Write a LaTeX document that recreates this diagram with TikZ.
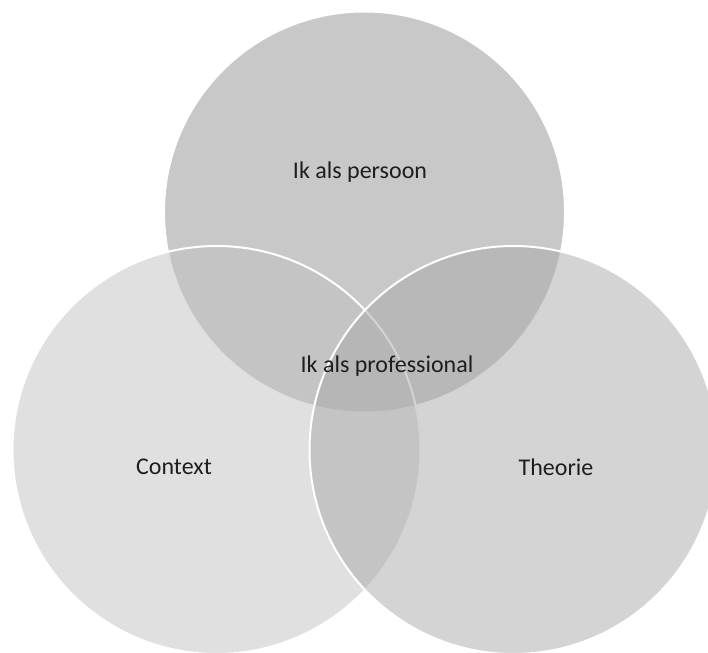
\documentclass[tikz,border=0pt]{standalone}
\usepackage{fontspec}
\setmainfont{Carlito}
\definecolor{persoongray}{RGB}{145, 145, 145}
\definecolor{contextgray}{RGB}{193, 193, 193}
\definecolor{theoriegray}{RGB}{169, 169, 169}
\definecolor{labelblack}{RGB}{30, 30, 30}

\begin{document}
\begin{tikzpicture}[x=1pt, y=-1pt]
\useasboundingbox (0,0) rectangle (708,652);
\node[circle, draw=white, line width=2pt, fill=persoongray, fill opacity=0.5, minimum size=401pt, inner sep=0pt] (persoon) at (364.5,212) {};
\node[circle, draw=white, line width=2pt, fill=contextgray, fill opacity=0.5, minimum size=408pt, inner sep=0pt] (context) at (216.5,450) {};
\node[circle, draw=white, line width=2pt, fill=theoriegray, fill opacity=0.5, minimum size=408pt, inner sep=0pt] (theorie) at (513.5,450) {};
\node[text=labelblack, font=\fontsize{24}{28}\selectfont] (persoonlabel) at (360,172) {Ik als persoon};
\node[text=labelblack, font=\fontsize{24}{28}\selectfont] (profLabel) at (387,366) {Ik als professional};
\node[text=labelblack, font=\fontsize{24}{28}\selectfont] (contextlabel) at (174,467) {Context};
\node[text=labelblack, font=\fontsize{24}{28}\selectfont] (theorielabel) at (556,467) {Theorie};
\end{tikzpicture}
\end{document}
